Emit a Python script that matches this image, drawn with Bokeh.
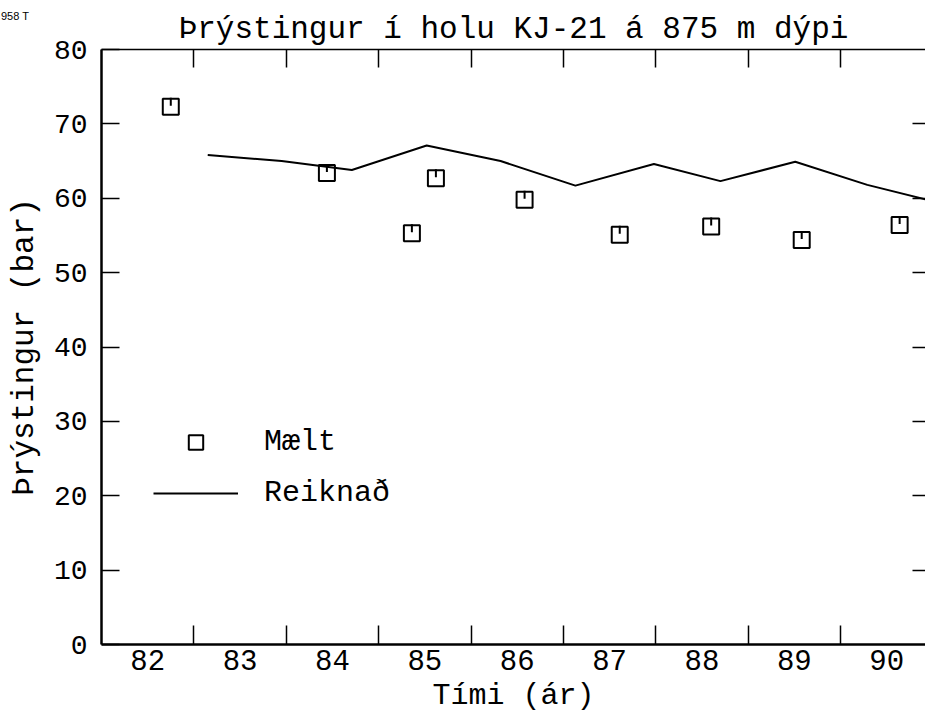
from bokeh.plotting import figure
from bokeh.models import (LinearAxis, FixedTicker, Range1d, Legend, LegendItem,
                          Title, Div)
from bokeh.layouts import column
from bokeh.embed import file_html
from bokeh.resources import INLINE

# ---- data ----
year_labels = ["82", "83", "84", "85", "86", "87", "88", "89", "90"]
year_starts = [82, 83, 84, 85, 86, 87, 88, 89, 90]

meas_x = [82.75, 84.44, 85.36, 85.62, 86.58, 87.61, 88.60, 89.58, 90.64]
meas_y = [72.3, 63.4, 55.3, 62.7, 59.8, 55.1, 56.2, 54.4, 56.4]

calc_x = [83.15, 83.95, 84.71, 85.52, 86.32, 87.13, 87.98, 88.70, 89.51, 90.29, 90.92]
calc_y = [65.8, 65.0, 63.8, 67.1, 65.0, 61.7, 64.6, 62.3, 64.9, 61.8, 59.85]

y_ticks = [0, 10, 20, 30, 40, 50, 60, 70, 80]

MONO = "Liberation Mono"

p = figure(width=925, height=719, output_backend="svg", toolbar_location=None,
           x_range=Range1d(82, 90.92), y_range=Range1d(0, 80),
           min_border_left=101, min_border_right=0, min_border_top=49,
           min_border_bottom=75)
p.outline_line_color = None
p.grid.visible = False
p.background_fill_color = "white"
p.border_fill_color = "white"

# bottom axis: labels at year centres, ticks at year boundaries
centres = [s + 0.5 for s in year_starts]
bx = p.xaxis[0]
bx.ticker = FixedTicker(ticks=centres, minor_ticks=year_starts[1:])
bx.major_label_overrides = {c: lab for c, lab in zip(centres, year_labels)}
bx.major_tick_in = 0
bx.major_tick_out = 0
bx.minor_tick_in = 19
bx.minor_tick_out = 0
bx.minor_tick_line_width = 1.5
bx.minor_tick_line_color = "black"
bx.axis_line_width = 2.5
bx.axis_line_color = "black"
bx.major_label_text_font = MONO
bx.major_label_text_font_size = "29px"
bx.major_label_text_color = "black"
bx.major_label_standoff = 5
bx.axis_label = "Tími (ár)"
bx.axis_label_text_font = MONO
bx.axis_label_text_font_size = "30px"
bx.axis_label_text_font_style = "normal"
bx.axis_label_text_color = "black"
bx.axis_label_standoff = 6

# left axis
ly = p.yaxis[0]
ly.ticker = FixedTicker(ticks=y_ticks)
ly.major_tick_in = 18
ly.major_tick_out = 0
ly.major_tick_line_width = 1.5
ly.major_tick_line_color = "black"
ly.minor_tick_line_color = None
ly.axis_line_width = 2.5
ly.axis_line_color = "black"
ly.major_label_text_font = MONO
ly.major_label_text_font_size = "28px"
ly.major_label_text_color = "black"
ly.major_label_standoff = 14
ly.axis_label = "Þrýstingur (bar)"
ly.axis_label_text_font = MONO
ly.axis_label_text_font_size = "31px"
ly.axis_label_text_font_style = "normal"
ly.axis_label_text_color = "black"
ly.axis_label_standoff = 9

# top axis (frame line + boundary ticks)
tx = LinearAxis(ticker=FixedTicker(ticks=[], minor_ticks=year_starts[1:]),
                minor_tick_in=18, minor_tick_out=0, minor_tick_line_width=1.5,
                minor_tick_line_color="black",
                major_tick_in=0, major_tick_out=0,
                axis_line_width=1.5, axis_line_color="black",
                major_label_standoff=0)
p.add_layout(tx, "above")

# right axis (ticks only)
ry = LinearAxis(ticker=FixedTicker(ticks=[], minor_ticks=y_ticks[1:-1]),
                minor_tick_in=13, minor_tick_out=0, minor_tick_line_width=1.5,
                minor_tick_line_color="black",
                major_tick_in=0, major_tick_out=0,
                axis_line_color=None, major_label_standoff=0)
p.add_layout(ry, "right")

p.add_layout(Title(text="Þrýstingur í holu KJ-21 á 875 m dýpi", align="center",
                   text_font=MONO, text_font_size="31px", text_font_style="normal",
                   text_color="black", standoff=6), "above")

# data glyphs
ln = p.line(calc_x, calc_y, line_color="black", line_width=2)
sq = p.scatter(meas_x, meas_y, marker="square", size=16, fill_color=None,
               line_color="black", line_width=2)
px_unit = 80.0 / 595.0
tick_y = [v + 5.0 * px_unit for v in meas_y]
dash = p.scatter(meas_x, tick_y, marker="dash", angle=1.5708, size=8,
                 line_color="black", line_width=2)

legend = Legend(items=[LegendItem(label="Mælt", renderers=[sq]),
                       LegendItem(label="Reiknað", renderers=[ln])],
                location=(52, 133), padding=0, margin=0, spacing=15,
                glyph_width=85, glyph_height=36, label_standoff=26,
                label_text_font=MONO, label_text_font_size="30px",
                label_text_color="black", background_fill_alpha=0,
                border_line_color=None)
p.add_layout(legend, "center")

stamp = Div(text='<span style="color:#000000;font-family:\'Liberation Sans\',Arial,sans-serif;'
                 'font-size:11px;line-height:14px;">958 T</span>',
            width=40, height=14, margin=(-711, 0, 0, 1),
            styles={"color": "#000000", "z-index": "10"})

layout = column(p, stamp, spacing=0)

open("out.html", "w").write(file_html(layout, INLINE))
